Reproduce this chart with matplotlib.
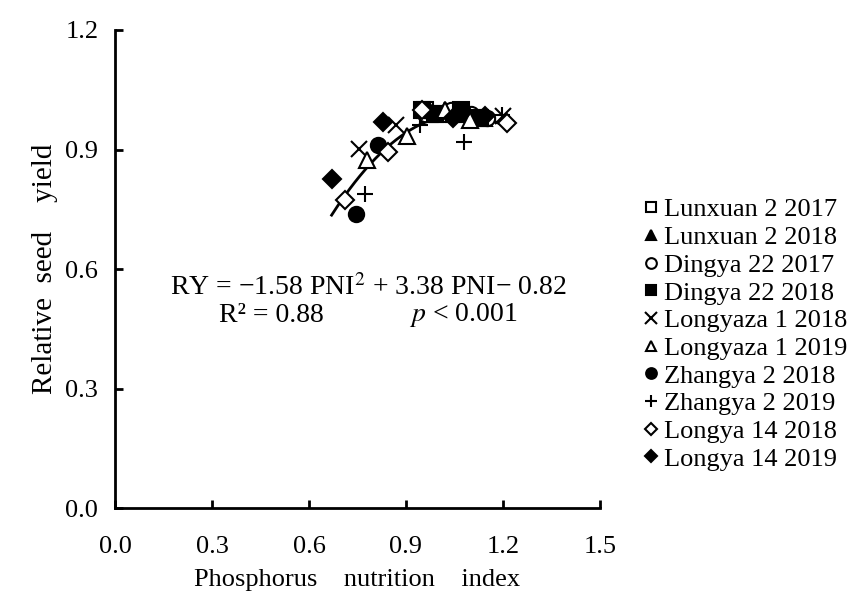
import numpy as np
import matplotlib.pyplot as plt

plt.rcParams['font.family'] = ['Liberation Serif', 'DejaVu Serif']
plt.rcParams['mathtext.fontset'] = 'stix'

# cultivar / year series: (PNI, relative seed yield)
labels = ["Lunxuan 2 2017", "Lunxuan 2 2018", "Dingya 22 2017", "Dingya 22 2018",
          "Longyaza 1 2018", "Longyaza 1 2019", "Zhangya 2 2018", "Zhangya 2 2019",
          "Longya 14 2018", "Longya 14 2019"]
markers = ["s", "^", "o", "s", "x", "^", "o", "+", "D", "D"]
filled = [False, True, False, True, True, False, True, True, False, True]

pni = [
    [0.96, 1.00, 1.05, 1.12],
    [0.97, 1.02, 1.08, 1.14],
    [0.96, 1.04, 1.10, 1.15],
    [0.95, 0.99, 1.07, 1.13],
    [0.756, 0.870, 0.99, 1.20],
    [0.779, 0.903, 1.02, 1.099],
    [0.745, 0.815, 0.96, 1.073],
    [0.774, 0.942, 1.080, 1.197],
    [0.712, 0.843, 0.95, 1.213],
    [0.671, 0.829, 1.047, 1.145],
]
ry = [
    [1.00, 0.99, 0.99, 0.98],
    [0.99, 1.00, 0.99, 0.98],
    [0.99, 1.00, 0.99, 0.98],
    [1.00, 0.99, 1.00, 0.98],
    [0.901, 0.962, 0.99, 0.985],
    [0.873, 0.933, 1.00, 0.975],
    [0.739, 0.912, 1.00, 1.00],
    [0.789, 0.962, 0.92, 0.987],
    [0.774, 0.895, 1.00, 0.967],
    [0.826, 0.968, 0.98, 0.985],
]

# fitted quadratic
coef = [-1.58, 3.38, -0.82]

fig = plt.figure(figsize=(8.62, 5.95), dpi=100)
ax = fig.add_axes([0.1334, 0.146, 0.5626, 0.8036])

handles = []
for i in range(len(labels)):
    m = markers[i]
    sz = 11 if m not in ("x", "+") else 12
    if m == "D":
        sz = 9
    if filled[i]:
        h, = ax.plot(pni[i], ry[i], linestyle="none", marker=m, ms=sz,
                     color="black", mew=1.5, label=labels[i])
    else:
        h, = ax.plot(pni[i], ry[i], linestyle="none", marker=m, ms=sz,
                     mfc="white", mec="black", mew=1.5, label=labels[i])
    handles.append(h)

xf = np.linspace(0.67, 1.2, 200)
ax.plot(xf, np.polyval(coef, xf), color="black", lw=2, zorder=1)

ax.set_xlim(0, 1.5)
ax.set_ylim(0, 1.2)
ax.set_xticks([0.0, 0.3, 0.6, 0.9, 1.2, 1.5])
ax.set_yticks([0.0, 0.3, 0.6, 0.9, 1.2])
ax.xaxis.set_major_formatter(plt.FormatStrFormatter('%.1f'))
ax.yaxis.set_major_formatter(plt.FormatStrFormatter('%.1f'))
ax.tick_params(direction="in", length=6, width=2, labelsize=19)
ax.tick_params(axis="x", pad=20)
ax.tick_params(axis="y", pad=12)
for s in ["top", "right"]:
    ax.spines[s].set_visible(False)
for s in ["left", "bottom"]:
    ax.spines[s].set_linewidth(2)

ax.set_xlabel("Phosphorus    nutrition    index", fontsize=19, labelpad=8)
ax.set_ylabel("Relative  seed    yield", fontsize=21, labelpad=5)

ax.text(0.783, 0.554, "RY = \u22121.58 PNI$^{2}$ + 3.38 PNI\u2212 0.82",
        ha="center", va="center", fontsize=20)
ax.text(0.483, 0.484, "R\u00b2 = 0.88", ha="center", va="center", fontsize=20)
ax.text(1.077, 0.484, "$\\it{p}$ < 0.001", ha="center", va="center", fontsize=20)

fig.legend(handles=handles, loc="upper left", bbox_to_anchor=(0.735, 0.685),
           frameon=False, fontsize=19, markerscale=0.7, handlelength=0.5,
           handletextpad=0.25, labelspacing=0.16, borderaxespad=0)

fig.savefig("out.png", dpi=100, facecolor="white")
